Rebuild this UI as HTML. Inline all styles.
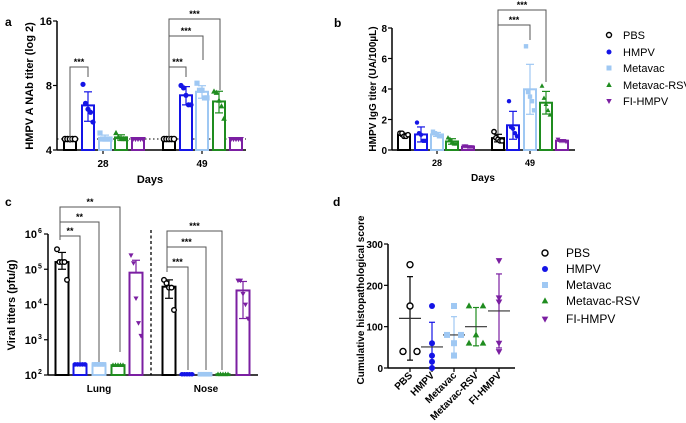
<!DOCTYPE html>
<html><head><meta charset="utf-8"><style>
body{margin:0;background:#fff;}
svg{display:block;font-family:"Liberation Sans",Arial,sans-serif;}
</style></head><body>
<svg id="fig" width="686" height="423" viewBox="0 0 686 423" xmlns="http://www.w3.org/2000/svg"></svg>
<script>
// ---------- data ----------
const groups = ["PBS","HMPV","Metavac","Metavac-RSV","FI-HMPV"];
const colors = ["#000000","#1414e6","#9fc8f3","#1f8c1f","#7b1fa2"];
const shapes = ["ocircle","circle","square","tri","dtri"];
// panel a (log2 titers)
const aDays = ["28","49"];
const a28 = [[4.5,4.5,4.5,4.5,4.5],[8.1,6.6,6.2,6.0,5.4],[4.8,4.5,4.5,4.5,4.5],[4.8,4.6,4.5,4.5,4.5],[4.5,4.5,4.5,4.5,4.5]];
const a49 = [[4.5,4.5,4.5,4.5,4.5],[8.0,7.8,7.2,6.5,6.5],[8.2,7.6,7.6,7.0,7.0],[7.5,7.4,6.8,6.4,5.6],[4.5,4.5,4.5,4.5,4.5]];
const aTicks = [4,8,16];
// panel b (IgG)
const b28 = [[1.1,1.1,0.9,0.9,1.0],[1.8,1.1,1.0,0.6,0.6],[1.2,1.1,1.0,0.9,0.9],[0.8,0.7,0.5,0.4,0.4],[0.25,0.25,0.2,0.2,0.2]];
const b49 = [[1.2,0.8,0.7,0.6,0.6],[3.2,1.5,1.4,1.1,0.9],[6.8,3.8,3.5,3.2,2.6],[4.2,3.4,3.0,2.6,2.3],[0.7,0.6,0.6,0.6,0.55]];
const bTicks = [0,2,4,6,8];
// panel c (viral titers, log10)
const cSites = ["Lung","Nose"];
const cLungMean = [1.6e5,200,200,190,8e4];
const cLungHi = [3e5,200,200,190,1.8e5];
const cLungLo = [1e5,200,200,190,8e4];
const cNoseMean = [3.2e4,105,105,105,2.5e4];
const cNoseHi = [5e4,105,105,105,4.5e4];
const cNoseLo = [1.5e4,105,105,105,4e3];
const cLungPts = [[3.7e5,1.6e5,1.6e5,1.6e5,5e4],[200,200,200,200,200],[200,200,200,200,200],[190,190,190,190,190],[2.5e5,1.5e5,1.5e4,3e3,1.3e3]];
const cNosePts = [[5e4,4e4,3e4,3e4,7e3],[105,105,105,105,105],[105,105,105,105,105],[105,105,105,105,105],[4.8e4,4.8e4,2e4,1e4,4e3]];
const cTicks = [2,3,4,5,6];
// panel d (histopathology)
const dPts = [[250,150,40,40],[150,60,30,15,0],[150,80,80,60,30],[150,150,80,60,60],[260,170,160,60,40]];
const dTicks = [0,100,200,300];

// ---------- helpers ----------
const svg = document.getElementById('fig');
const NS = "http://www.w3.org/2000/svg";
function el(tag, attrs, parent){
  const e = document.createElementNS(NS, tag);
  for (const k in attrs) e.setAttribute(k, attrs[k]);
  (parent||svg).appendChild(e);
  return e;
}
function txt(x,y,s,size,opts,parent){
  const t = el('text',Object.assign({x:x,y:y,'font-size':size,fill:'#000'},opts||{}),parent);
  t.textContent = s; return t;
}
function mean(a){return a.reduce((p,c)=>p+c,0)/a.length;}
function sd(a){const m=mean(a);return Math.sqrt(a.reduce((p,c)=>p+(c-m)*(c-m),0)/(a.length-1));}
function marker(g,i,x,y,r){
  const c = colors[i]; const s = shapes[i];
  let m;
  if (s==="ocircle") m = el('circle',{cx:x,cy:y,r:r,fill:'#fff',stroke:c,'stroke-width':1.4},g);
  else if (s==="circle") m = el('circle',{cx:x,cy:y,r:r,fill:c},g);
  else if (s==="square") m = el('rect',{x:x-r,y:y-r,width:2*r,height:2*r,fill:c},g);
  else if (s==="tri") m = el('polygon',{points:`${x},${y-r*1.2} ${x-r*1.1},${y+r*0.8} ${x+r*1.1},${y+r*0.8}`,fill:c},g);
  else m = el('polygon',{points:`${x},${y+r*1.2} ${x-r*1.1},${y-r*0.8} ${x+r*1.1},${y-r*0.8}`,fill:c},g);
  
  
  return m;
}
function errbar(g,x,yhi,ylo,color,w){
  el('line',{x1:x,x2:x,y1:yhi,y2:ylo,stroke:color,'stroke-width':1.2},g);
  el('line',{x1:x-w,x2:x+w,y1:yhi,y2:yhi,stroke:color,'stroke-width':1.2},g);
  el('line',{x1:x-w,x2:x+w,y1:ylo,y2:ylo,stroke:color,'stroke-width':1.2},g);
}
function bar(g,i,x,ytop,ybase,w,name){
  const r = el('rect',{x:x-w/2,y:ytop,width:w,height:Math.max(0,ybase-ytop),fill:'#fff',stroke:colors[i],'stroke-width':2},g);
  
  
}
function spread(n,i,w){ return n===1?0:(-w + 2*w*i/(n-1)); }
function bracket(g,x1,x2,yTop,y1,y2,label){
  el('polyline',{points:`${x1},${y1} ${x1},${yTop} ${x2},${yTop} ${x2},${y2}`,fill:'none',stroke:'#555','stroke-width':1},g);
  txt((x1+x2)/2,yTop-2,label,9,{'text-anchor':'middle','font-weight':'bold'},g);
}

// panel labels
[["a",5,26],["b",334,27],["c",5,206],["d",333,206]].forEach(p=>{
  const t = txt(p[1],p[2],p[0],12,{'font-weight':'bold'});
  
  
});

// ---------- panel a ----------
(function(){
  const g = el('g',{});
  
  
  const X0=57, X1=246, Ytop=21, Ybot=150;
  const y = v => Ybot - (Math.log2(v)-2)/(4-2)*(Ybot-Ytop);
  el('line',{x1:X0,x2:X0,y1:Ytop,y2:Ybot,stroke:'#000','stroke-width':1.5},g);
  el('line',{x1:X0,x2:X1,y1:Ybot,y2:Ybot,stroke:'#000','stroke-width':1.5},g);
  aTicks.forEach(t=>{
    el('line',{x1:X0-4,x2:X0,y1:y(t),y2:y(t),stroke:'#000','stroke-width':1.2},g);
    txt(X0-5,y(t)+4,String(t),11,{'text-anchor':'end','font-weight':'bold'},g);
  });
  el('line',{x1:X0,x2:X1,y1:y(4.5),y2:y(4.5),stroke:'#000','stroke-width':1,'stroke-dasharray':'1.5,2.5'},g);
  const centers = [103,202];
  const data = [a28,a49];
  const xs = [[70,88,105,121,138],[169,186,202,219,236]];
  data.forEach((day,d)=>{
    el('line',{x1:centers[d],x2:centers[d],y1:Ybot,y2:Ybot+4,stroke:'#000','stroke-width':1.2},g);
    txt(centers[d],Ybot+17,aDays[d],10,{'text-anchor':'middle','font-weight':'bold'},g);
    day.forEach((pts,i)=>{
      const m = mean(pts), s = sd(pts), x = xs[d][i];
      bar(g,i,x,y(m),Ybot,12,'bar-a-'+aDays[d]+'-'+groups[i].toLowerCase());
      if (s>0.01) errbar(g,x,y(m+s),y(Math.max(4.01,m-s)),colors[i],4);
      pts.forEach((v,k)=>marker(g,i,x+spread(pts.length,k,5),y(v),2.6));
    });
  });
  bracket(g,70,88,67,143,77,"***");
  bracket(g,169,186,67,140,77,"***");
  bracket(g,169,203,36,140,60,"***");
  bracket(g,169,220,19,140,90,"***");
  const yl = txt(0,0,"HMPV A NAb titer (log 2)",11,{'text-anchor':'middle','font-weight':'bold',transform:'translate(33,86) rotate(-90)'},g);
  
  
  txt(150,183,"Days",11,{'text-anchor':'middle','font-weight':'bold'},g);
})();

// ---------- panel b ----------
(function(){
  const g = el('g',{});
  
  
  const X0=392, X1=575, Ytop=28, Ybot=150;
  const y = v => Ybot - v/8*(Ybot-Ytop);
  el('line',{x1:X0,x2:X0,y1:Ytop,y2:Ybot,stroke:'#000','stroke-width':1.5},g);
  el('line',{x1:X0,x2:X1,y1:Ybot,y2:Ybot,stroke:'#000','stroke-width':1.5},g);
  bTicks.forEach(t=>{
    el('line',{x1:X0-4,x2:X0,y1:y(t),y2:y(t),stroke:'#000','stroke-width':1.2},g);
    txt(X0-5,y(t)+4,String(t),10,{'text-anchor':'end','font-weight':'bold'},g);
  });
  const centers=[437,530];
  const xs=[[404,421,437,452,468],[498,513,530,546,562]];
  [b28,b49].forEach((day,d)=>{
    el('line',{x1:centers[d],x2:centers[d],y1:Ybot,y2:Ybot+4,stroke:'#000','stroke-width':1.2},g);
    txt(centers[d],Ybot+16,aDays[d],9,{'text-anchor':'middle','font-weight':'bold'},g);
    day.forEach((pts,i)=>{
      const m=mean(pts), s=sd(pts), x=xs[d][i];
      bar(g,i,x,y(m),Ybot,12,'bar-b-'+aDays[d]+'-'+groups[i].toLowerCase());
      errbar(g,x,y(m+s),y(Math.max(0,m-s)),colors[i],4);
      pts.forEach((v,k)=>marker(g,i,x+spread(pts.length,k,4),y(v),2.2));
    });
  });
  bracket(g,498,530,25,134,40,"***");
  bracket(g,498,546,10,134,82,"***");
  const yl = txt(0,0,"HMPV IgG titer (UA/100µL)",10,{'text-anchor':'middle','font-weight':'bold',transform:'translate(376,89) rotate(-90)'},g);
  
  
  txt(483,181,"Days",10,{'text-anchor':'middle','font-weight':'bold'},g);
  // legend
  const ly=[35,52,68,85,101];
  groups.forEach((n,i)=>{
    const lg = el('g',{},g);
    
    
    marker(lg,i,609,ly[i],2.5);
    txt(623,ly[i]+4,n,11,{},lg);
  });
})();

// ---------- panel c ----------
(function(){
  const g = el('g',{});
  
  
  const X0=48, X1=258, Ytop=234, Ybot=375;
  const y = v => Ybot - (Math.log10(v)-2)/4*(Ybot-Ytop);
  el('line',{x1:X0,x2:X0,y1:Ytop,y2:Ybot,stroke:'#000','stroke-width':1.5},g);
  el('line',{x1:X0,x2:X1,y1:Ybot,y2:Ybot,stroke:'#000','stroke-width':1.5},g);
  cTicks.forEach(t=>{
    const yy = Ybot-(t-2)/4*(Ybot-Ytop);
    el('line',{x1:X0-4,x2:X0,y1:yy,y2:yy,stroke:'#000','stroke-width':1.2},g);
    txt(X0-11,yy+4,"10",11,{'text-anchor':'end','font-weight':'bold'},g);
    txt(X0-10,yy-1,String(t),7,{'font-weight':'bold'},g);
  });
  el('line',{x1:151,x2:151,y1:230,y2:Ybot,stroke:'#000','stroke-width':1.3,'stroke-dasharray':'3,2.5'},g);
  const xs=[[62,80,99,118,136],[169,187,205,223,243]];
  const means=[cLungMean,cNoseMean], his=[cLungHi,cNoseHi], los=[cLungLo,cNoseLo], pts=[cLungPts,cNosePts];
  [99,206].forEach((cx,s)=>txt(cx,392,cSites[s],10,{'text-anchor':'middle','font-weight':'bold'},g));
  for (let s=0;s<2;s++){
    for (let i=0;i<5;i++){
      const x=xs[s][i];
      bar(g,i,x,y(means[s][i]),Ybot,13,'bar-c-'+cSites[s].toLowerCase()+'-'+groups[i].toLowerCase());
      if (his[s][i]>means[s][i]*1.05 || los[s][i]<means[s][i]*0.95) errbar(g,x,y(his[s][i]),y(los[s][i]),colors[i],4);
      pts[s][i].forEach((v,k)=>marker(g,i,x+spread(pts[s][i].length,k,5),y(v),2.3));
    }
  }
  bracket(g,60,80,236,240,362,"**");
  bracket(g,60,99,222,240,362,"**");
  bracket(g,60,120,207,240,352,"**");
  bracket(g,167,188,267,272,370,"***");
  bracket(g,167,206,247,272,370,"***");
  bracket(g,167,222,231,272,370,"***");
  const yl = txt(0,0,"Viral titers (pfu/g)",11,{'text-anchor':'middle','font-weight':'bold',transform:'translate(15,305) rotate(-90)'},g);
  
  
})();

// ---------- panel d ----------
(function(){
  const g = el('g',{});
  
  
  const X0=388, X1=515, Ytop=244, Ybot=368;
  const y = v => Ybot - v/300*(Ybot-Ytop);
  el('line',{x1:X0,x2:X0,y1:Ytop,y2:Ybot,stroke:'#000','stroke-width':1.5},g);
  el('line',{x1:X0,x2:X1,y1:Ybot,y2:Ybot,stroke:'#000','stroke-width':1.5},g);
  dTicks.forEach(t=>{
    el('line',{x1:X0-4,x2:X0,y1:y(t),y2:y(t),stroke:'#000','stroke-width':1.2},g);
    txt(X0-5,y(t)+4,String(t),10,{'text-anchor':'end','font-weight':'bold'},g);
  });
  const xs=[410,432,454,476,499];
  dPts.forEach((p,i)=>{
    const x=xs[i], m=mean(p), s=sd(p);
    el('line',{x1:x,x2:x,y1:Ybot,y2:Ybot+4,stroke:'#000','stroke-width':1.2},g);
    txt(0,0,groups[i],10,{'text-anchor':'end','font-weight':'bold',transform:`translate(${x+3},${Ybot+8}) rotate(-45)`},g);
    errbar(g,x,y(m+s),y(Math.max(0,m-s)),colors[i],3);
    el('line',{x1:x-11,x2:x+11,y1:y(m),y2:y(m),stroke:'#333','stroke-width':1.2},g);
    p.forEach((v,k)=>{
      const dup = p.filter(q=>q===v).length;
      const idx = p.slice(0,k).filter(q=>q===v).length;
      const off = dup>1 ? (-7 + 14*idx/(dup-1)) : 0;
      marker(g,i,x+off,y(v),3);
    });
  });
  const yl = txt(0,0,"Cumulative histopathological score",10,{'text-anchor':'middle','font-weight':'bold',transform:'translate(364,300) rotate(-90)'},g);
  
  
  const ly=[253,269,285,301,319];
  groups.forEach((n,i)=>{
    const lg = el('g',{},g);
    
    
    marker(lg,i,545,ly[i],3);
    txt(566,ly[i]+4,n,12,{},lg);
  });
})();
</script>
</body></html>
